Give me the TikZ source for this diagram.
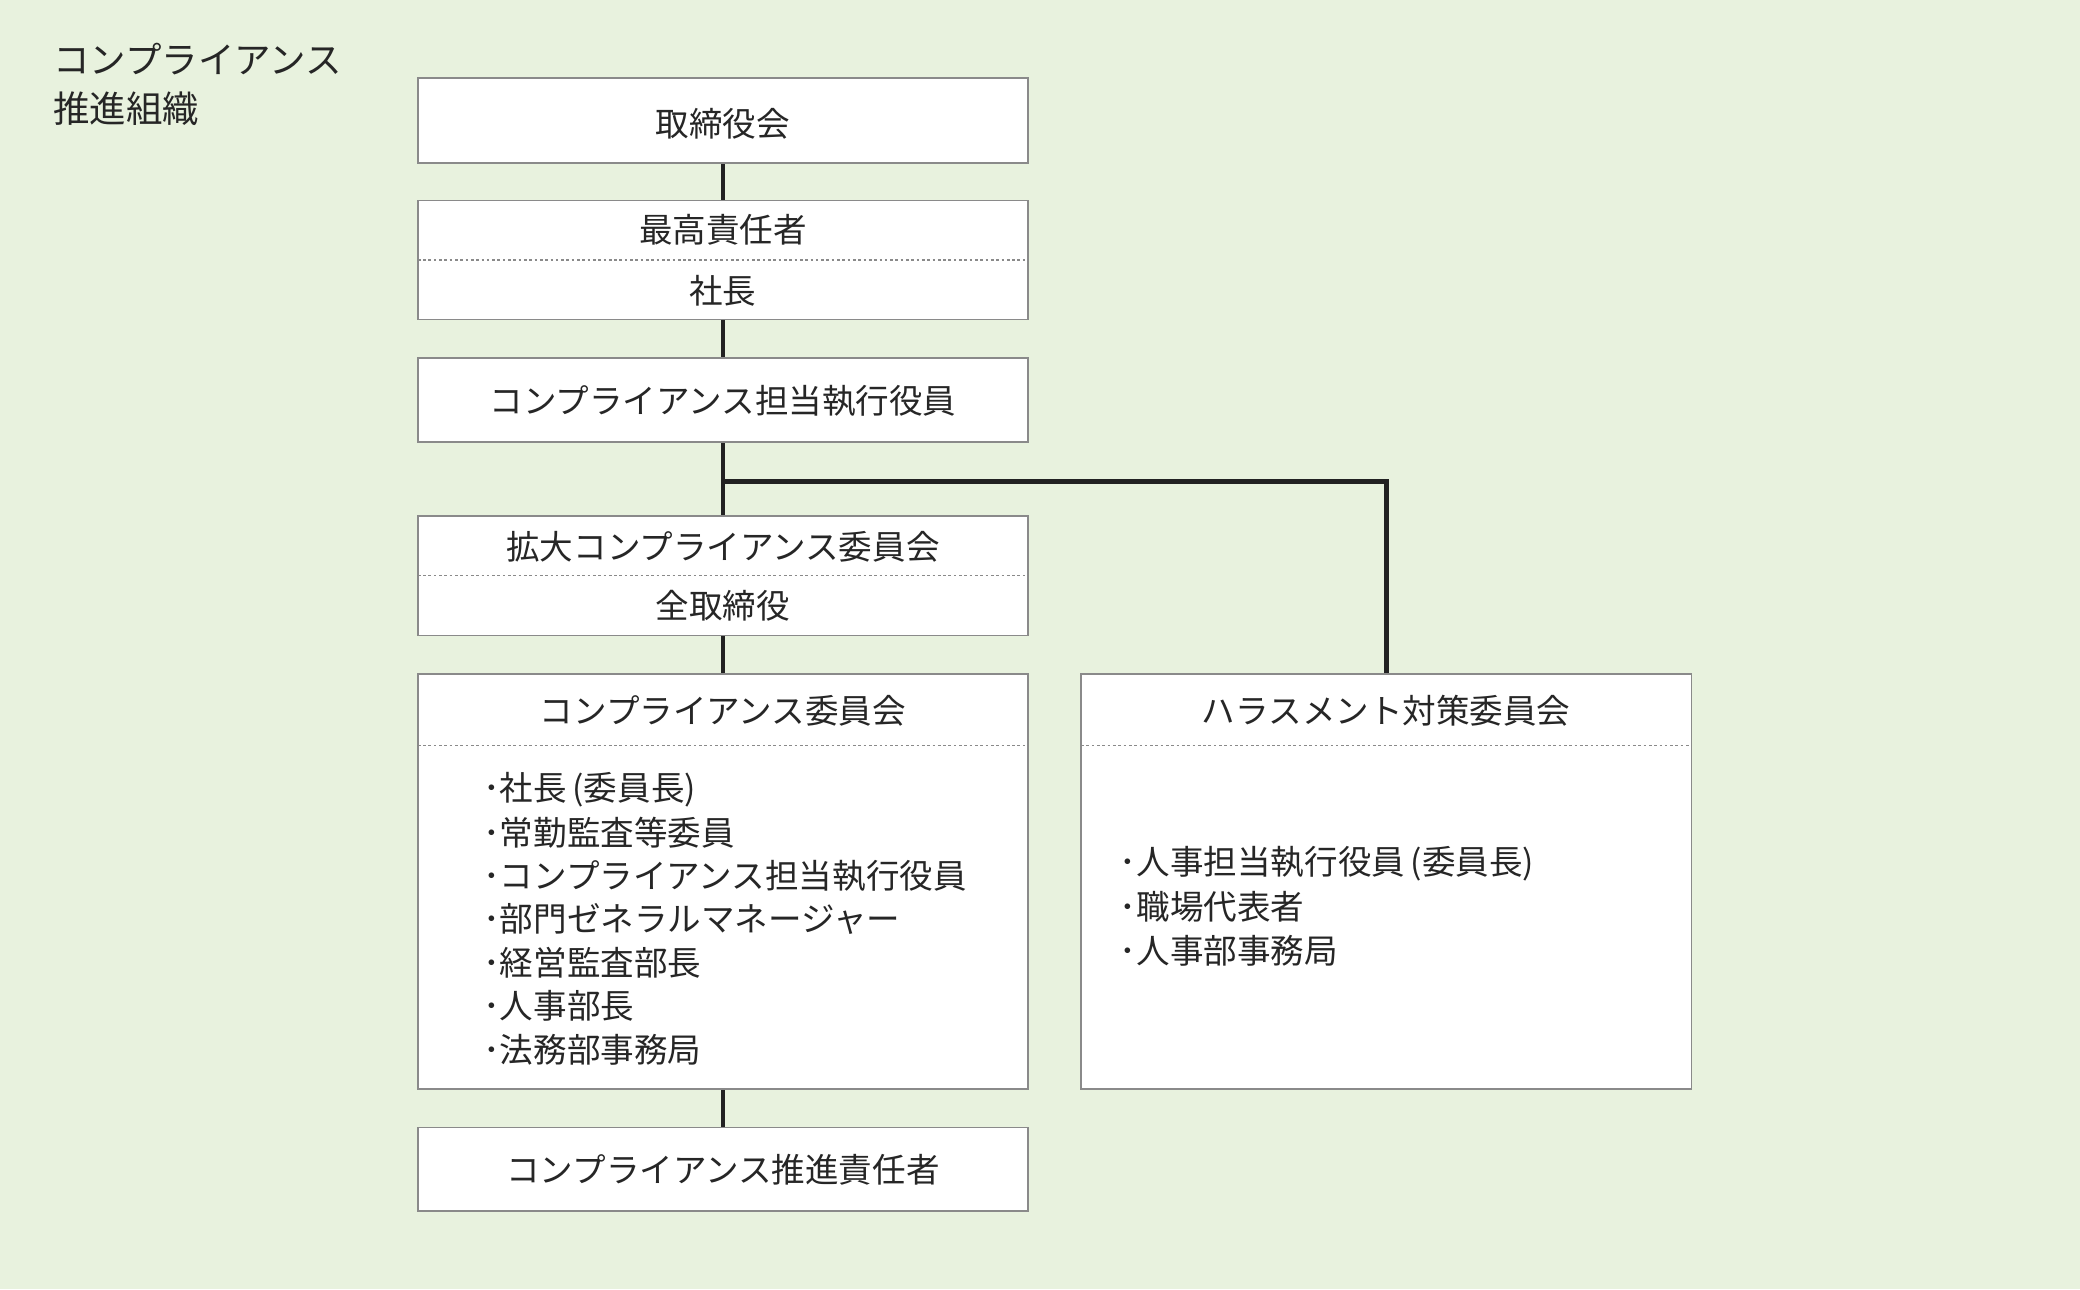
\documentclass[tikz,border=0pt]{standalone}
\usepackage{fontspec}
\setmainfont{Noto Sans CJK JP}
\definecolor{bg}{HTML}{E8F2DE}
\definecolor{bd}{HTML}{8A8A8A}
\definecolor{ln}{HTML}{222222}
\begin{document}
\begin{tikzpicture}[x=1pt,y=-1pt,
  box/.style={draw=bd,fill=white,line width=1.2pt},
  dv/.style={draw=bd,dashed,line width=1pt,dash pattern=on 2pt off 2pt},
  conn/.style={draw=ln,line width=3.5pt},
  lbl/.style={font=\fontsize{25.3}{28}\selectfont,text=black!85},
  it/.style={font=\fontsize{25.3}{28}\selectfont,text=black!85,anchor=west,inner sep=0}]
\fill[bg] (0,0) rectangle (1568,972);
\useasboundingbox (0,0) rectangle (1568,972);
\node[font=\fontsize{27.5}{37.5}\selectfont,text=black!85,anchor=north west,align=left,inner sep=0] (title) at (40,32) {コンプライアンス\\推進組織};
% connectors
\coordinate (j) at (545,363);
\draw[conn] (545,123) -- (545,151);
\draw[conn] (545,241) -- (545,270);
\draw[conn] (545,333) -- (545,389);
\draw[conn] (j) -- (1045,363) -- (1045,508);
\draw[conn] (545,479) -- (545,508);
\draw[conn] (545,821) -- (545,850);
% boxes
\draw[box] (315,59) rectangle (775,123);
\node[lbl] (b1) at (545,93) {取締役会};
\draw[box] (315,151) rectangle (775,241);
\draw[dv] (315,196) -- (775,196);
\node[lbl] (b2a) at (545,173) {最高責任者};
\node[lbl] (b2b) at (545,219) {社長};
\draw[box] (315,270) rectangle (775,333);
\node[lbl] (b3) at (545,302) {コンプライアンス担当執行役員};
\draw[box] (315,389) rectangle (775,479);
\draw[dv] (315,434) -- (775,434);
\node[lbl] (b4a) at (545,412) {拡大コンプライアンス委員会};
\node[lbl] (b4b) at (545,457) {全取締役};
\draw[box] (315,508) rectangle (775,821);
\draw[dv] (315,562) -- (775,562);
\node[lbl] (b5) at (545,536) {コンプライアンス委員会};
\foreach \t [count=\i from 0] in {社長\,(委員長),常勤監査等委員,コンプライアンス担当執行役員,部門ゼネラルマネージャー,経営監査部長,人事部長,法務部事務局}
  \node[it] (l\i) at (364,595+32.7*\i) {･\t};
\draw[box] (815,508) rectangle (1275,821);
\draw[dv] (815,562) -- (1275,562);
\node[lbl] (b6) at (1045,536) {ハラスメント対策委員会};
\foreach \t [count=\i from 0] in {人事担当執行役員\,(委員長),職場代表者,人事部事務局}
  \node[it] (r\i) at (844,651+32.7*\i) {･\t};
\draw[box] (315,850) rectangle (775,913);
\node[lbl] (b7) at (545,882) {コンプライアンス推進責任者};
\end{tikzpicture}
\end{document}
